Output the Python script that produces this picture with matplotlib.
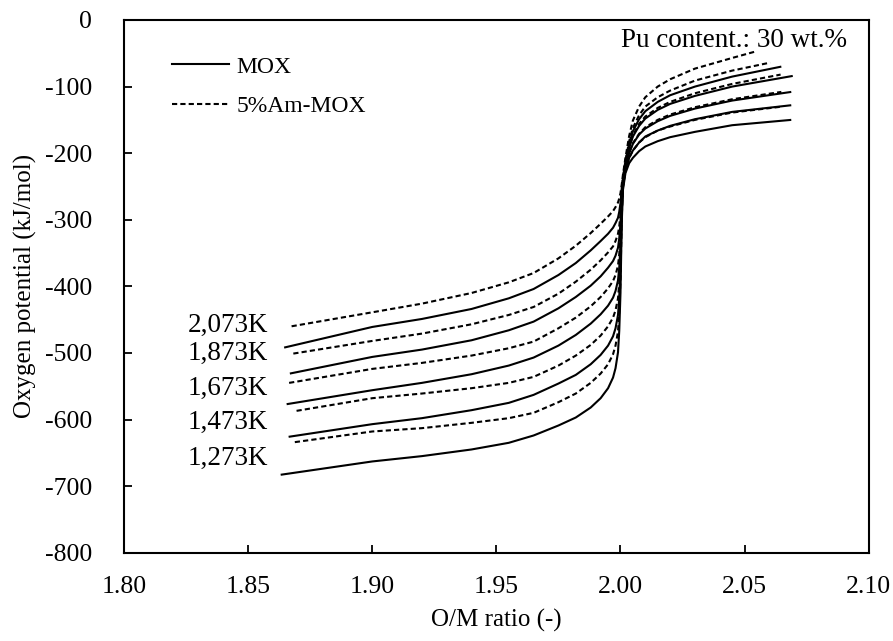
import numpy as np
import matplotlib
matplotlib.use("Agg")
import matplotlib.pyplot as plt
from matplotlib.lines import Line2D

plt.rcParams['font.family'] = ['Liberation Serif', 'DejaVu Serif']
plt.rcParams['axes.unicode_minus'] = False

# ---------------- data ----------------
temps = ["2,073K", "1,873K", "1,673K", "1,473K", "1,273K"]

# O/M values shared by the middle part of every curve
om_mid = [1.90, 1.92, 1.94, 1.955, 1.965, 1.975, 1.982, 1.988, 1.992,
          1.995, 1.997, 1.998, 1.999, 1.9995, 2.000, 2.0005, 2.001,
          2.002, 2.0035, 2.005, 2.0075, 2.010, 2.015, 2.020, 2.030, 2.045]

# MOX (solid), order: 2073, 1873, 1673, 1473, 1273 K
mox_start_x = [1.8645, 1.8668, 1.8655, 1.8663, 1.8631]
mox_start_y = [-492, -531, -577, -626, -683]
mox_end_x = [2.0648, 2.0694, 2.0688, 2.0688, 2.0688]
mox_end_y = [-70, -84, -108, -128, -150]
mox_mid_y = [
    [-461, -449, -434, -418, -404, -383, -365, -346, -332, -321, -312, -305, -297,
     -288, -275, -253, -238, -213, -186, -167, -149, -137, -123, -113, -100, -85],
    [-506, -495, -481, -466, -453, -433, -416, -399, -385, -372, -362, -354, -342,
     -328, -305, -264, -242, -217, -192, -175, -159, -148, -135, -126, -114, -100],
    [-556, -545, -532, -519, -507, -489, -473, -456, -442, -429, -417, -407, -391,
     -372, -338, -277, -247, -222, -200, -186, -172, -163, -152, -144, -133, -121],
    [-607, -598, -586, -575, -563, -546, -533, -517, -503, -489, -475, -463, -443,
     -417, -373, -291, -250, -225, -207, -196, -184, -175, -166, -159, -149, -138],
    [-663, -655, -645, -635, -624, -609, -597, -582, -568, -553, -537, -523, -499,
     -467, -410, -305, -255, -230, -215, -207, -197, -190, -182, -176, -168, -158],
]

# 5%Am-MOX (dashed), same temperature order
am_start_x = [1.8675, 1.8682, 1.8665, 1.8695, 1.8688]
am_start_y = [-460, -501, -545, -587, -634]
am_end_x = [2.0547, 2.0603, 2.0645, 2.0648, 2.0653]
am_end_y = [-47, -64, -82, -108, -130]
am_mid_y = [
    [-439, -426, -410, -394, -380, -358, -339, -320, -306, -295, -287, -281, -274,
     -268, -260, -247, -232, -207, -174, -151, -130, -116, -100, -89, -73, -57],
    [-482, -471, -457, -443, -431, -411, -393, -375, -361, -349, -340, -332, -321,
     -310, -292, -259, -236, -211, -182, -162, -143, -130, -116, -106, -91, -76],
    [-524, -515, -504, -493, -483, -463, -447, -430, -416, -403, -392, -383, -369,
     -352, -323, -271, -241, -216, -190, -173, -156, -145, -132, -123, -110, -96],
    [-568, -561, -553, -545, -536, -519, -504, -488, -474, -460, -447, -436, -418,
     -395, -356, -284, -246, -221, -199, -185, -171, -161, -150, -142, -131, -119],
    [-618, -613, -605, -598, -590, -574, -561, -545, -531, -517, -502, -489, -468,
     -439, -389, -297, -251, -226, -207, -196, -184, -176, -166, -160, -150, -139],
]

# ---------------- layout ----------------
label_y = [-458, -500, -553, -605, -658]
lw = 1.5
dash = (2.5, 1.5)

fig = plt.figure(figsize=(8.93, 6.41), dpi=100)
ax = fig.add_axes([0.1389, 0.1378, 0.9728 - 0.1389, 0.9688 - 0.1378])

for k in range(len(temps)):
    x = [mox_start_x[k]] + om_mid + [mox_end_x[k]]
    y = [mox_start_y[k]] + mox_mid_y[k] + [mox_end_y[k]]
    ax.plot(x, y, color='black', lw=lw, solid_capstyle='butt',
            solid_joinstyle='round')

    x = [am_start_x[k]] + om_mid + [am_end_x[k]]
    y = [am_start_y[k]] + am_mid_y[k] + [am_end_y[k]]
    ax.plot(x, y, color='black', lw=lw, dashes=dash)

    ax.text(1.858, label_y[k], temps[k], ha='right', va='center', fontsize=19.5)

ax.text(2.0913, -31.5, "Pu content.: 30 wt.%", ha='right', va='center',
        fontsize=19.5)

handles = [Line2D([], [], color='black', lw=lw),
           Line2D([], [], color='black', lw=lw, dashes=dash)]
ax.legend(handles, ["MOX", "5%Am-MOX"], loc='upper left',
          bbox_to_anchor=(0.064, 0.932), frameon=False, fontsize=17,
          borderaxespad=0, borderpad=0, handlelength=2.44,
          handletextpad=0.31, labelspacing=0.77)

ax.set_xlim(1.80, 2.10)
ax.set_ylim(-800, 0)
ax.set_xticks(np.arange(1.80, 2.1001, 0.05))
ax.set_xticklabels(["%.2f" % v for v in np.arange(1.80, 2.1001, 0.05)])
ax.set_yticks(np.arange(-800, 1, 100))
ax.set_yticklabels(["%d" % v for v in np.arange(-800, 1, 100)])
ax.tick_params(direction='in', length=5.5, width=1.3, labelsize=18.5)
ax.tick_params(axis='x', pad=17)
ax.tick_params(axis='y', pad=23)
for s in ax.spines.values():
    s.set_linewidth(1.5)

ax.set_xlabel("O/M ratio (-)", fontsize=18)
ax.set_ylabel("Oxygen potential (kJ/mol)", fontsize=18)
ax.xaxis.set_label_coords(0.5, -(620 - 552.7) / 532.7)
ax.xaxis.label.set_verticalalignment('center')
ax.yaxis.set_label_coords((25 - 124) / 744.7, 0.5)
ax.yaxis.label.set_verticalalignment('center')

fig.savefig("out.png", dpi=100)
